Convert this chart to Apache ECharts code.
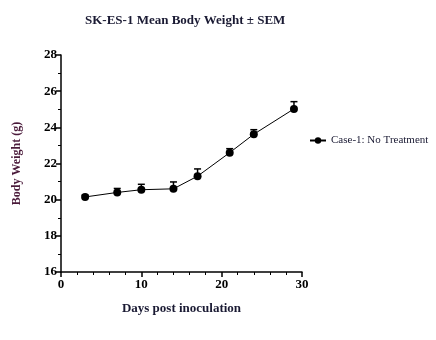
<!DOCTYPE html>
<html><head><meta charset="utf-8">
<script src="https://cdn.jsdelivr.net/npm/echarts@6/dist/echarts.min.js"></script>
<style>html,body{margin:0;padding:0;background:#fff}#c{width:436px;height:340px}</style>
</head><body><div id="c"></div>
<script>
const days = [3, 7, 10, 14, 17, 21, 24, 29];
const meanWeight = [20.15, 20.4, 20.55, 20.6, 21.3, 22.6, 23.62, 25.02];
const sem = [0.1, 0.22, 0.3, 0.38, 0.4, 0.22, 0.25, 0.4];
const seriesName = 'Case-1: No Treatment';
const xTicks = [0, 10, 20, 30];
const yTicks = [16, 18, 20, 22, 24, 26, 28];

const serif = 'Liberation Serif, Times New Roman, serif';
const chart = echarts.init(document.getElementById('c'), null, {renderer: 'canvas'});
const pts = days.map((d, i) => [d, meanWeight[i]]);
const errData = days.map((d, i) => [d, meanWeight[i], meanWeight[i] + sem[i]]);
chart.setOption({
  animation: false,
  title: {text: 'SK-ES-1 Mean Body Weight \u00b1 SEM', left: 80, top: 9,
    textStyle: {fontFamily: serif, fontWeight: 'bold', fontSize: 13, color: '#1a1a33'}},
  legend: {data: [{name: seriesName}], left: 304, top: 130, itemWidth: 16, itemHeight: 8, itemGap: 4,
    textStyle: {fontFamily: serif, fontSize: 11, color: '#1a1a33'}},
  grid: {left: 61, right: 134, top: 55, bottom: 68, containLabel: false},
  xAxis: {type: 'value', min: xTicks[0], max: xTicks[xTicks.length - 1], interval: 10,
    name: 'Days post inoculation', nameLocation: 'middle', nameGap: 30,
    nameTextStyle: {fontFamily: serif, fontWeight: 'bold', fontSize: 13, color: '#1a1a33'},
    axisLine: {lineStyle: {color: '#000', width: 1.5}},
    axisTick: {length: 5, lineStyle: {color: '#000', width: 1.5}},
    minorTick: {show: true, splitNumber: 5, length: 3, lineStyle: {color: '#000', width: 1}},
    splitLine: {show: false},
    axisLabel: {fontFamily: serif, fontWeight: 'bold', fontSize: 13, color: '#000', margin: 6}},
  yAxis: {type: 'value', min: yTicks[0], max: yTicks[yTicks.length - 1], interval: 2,
    name: 'Body Weight (g)', nameLocation: 'middle', nameGap: 38,
    nameTextStyle: {fontFamily: serif, fontWeight: 'bold', fontSize: 12, color: '#4a1a3a'},
    axisLine: {show: true, lineStyle: {color: '#000', width: 1.5}},
    axisTick: {show: true, length: 5, lineStyle: {color: '#000', width: 1.5}},
    minorTick: {show: true, splitNumber: 2, length: 3, lineStyle: {color: '#000', width: 1}},
    splitLine: {show: false},
    axisLabel: {fontFamily: serif, fontWeight: 'bold', fontSize: 13, color: '#000', margin: 4}},
  series: [
    {name: seriesName, type: 'line', data: pts, symbol: 'circle', symbolSize: 8,
      itemStyle: {color: '#000'}, lineStyle: {color: '#000', width: 1}, z: 3},
    {name: 'err', type: 'custom', data: errData, z: 2,
      renderItem: function (params, api) {
        const x = api.coord([api.value(0), api.value(1)]);
        const top = api.coord([api.value(0), api.value(2)]);
        const half = 3.5;
        return {type: 'group', children: [
          {type: 'line', shape: {x1: x[0], y1: x[1], x2: top[0], y2: top[1]}, style: {stroke: '#000', lineWidth: 1.5}},
          {type: 'line', shape: {x1: top[0] - half, y1: top[1], x2: top[0] + half, y2: top[1]}, style: {stroke: '#000', lineWidth: 1.5}}
        ]};
      }}
  ]
});
</script></body></html>
